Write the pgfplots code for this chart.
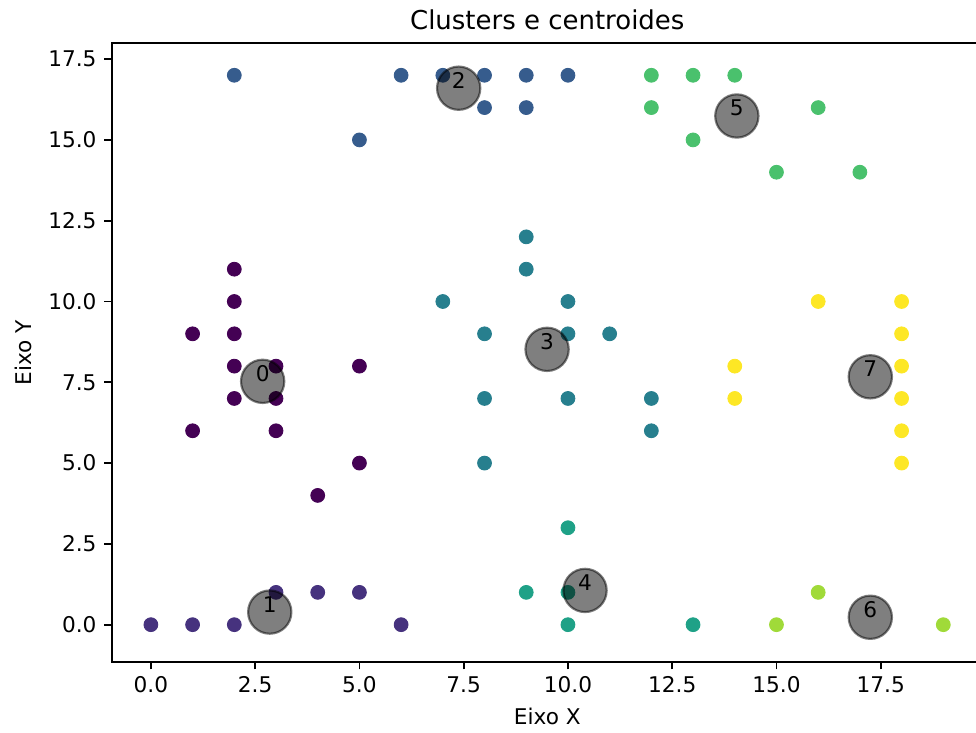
\documentclass[border=0pt]{standalone}
\usepackage{pgfplots}
\pgfplotsset{compat=1.18}
\usepackage{pgfplotstable}
\usepackage{fontspec}
\setmainfont{DejaVu Sans}
\definecolor{v0}{HTML}{440154}
\definecolor{v1}{HTML}{46327E}
\definecolor{v2}{HTML}{365C8D}
\definecolor{v3}{HTML}{277F8E}
\definecolor{v4}{HTML}{1FA187}
\definecolor{v5}{HTML}{4AC16D}
\definecolor{v6}{HTML}{A0DA39}
\definecolor{v7}{HTML}{FDE725}
\pgfplotstableread{
x y label
2.68 7.53 0
2.85 0.39 1
7.38 16.60 2
9.50 8.52 3
10.41 1.06 4
14.05 15.74 5
17.25 0.23 6
17.25 7.67 7
}\centroids
\begin{document}
\begin{tikzpicture}
\begin{axis}[
  at={(0,0)}, anchor=south west,
  scale only axis,
  width=402.5pt, height=285.7pt,
  xmin=-0.94, xmax=19.95, ymin=-1.145, ymax=17.99,
  xtick={0,2.5,...,17.5}, ytick={0,2.5,...,17.5},
  tick align=outside, xtick pos=bottom, ytick pos=left,
  major tick length=3.5pt,
  every tick/.style={black, line width=0.8pt},
  axis line style={line width=0.8pt},
  /pgf/number format/assume math mode=true,
  xticklabel style={/pgf/number format/.cd, fixed, fixed zerofill, precision=1},
  yticklabel style={/pgf/number format/.cd, fixed, fixed zerofill, precision=1},
  tick label style={font=\fontsize{10}{12}\selectfont},
  title={Clusters e centroides},
  every axis title shift=0pt,
  title style={at={(axis description cs:0.5,1.0215)}, anchor=base, yshift=0pt, inner sep=0pt, font=\fontsize{12}{14}\selectfont},
  xlabel={Eixo X},
  xlabel style={at={(axis description cs:0.5,-0.1022)}, anchor=base, inner sep=0pt, font=\fontsize{10}{12}\selectfont},
  ylabel={Eixo Y},
  ylabel style={at={(axis description cs:-0.0917,0.5)}, anchor=base, inner sep=0pt, font=\fontsize{10}{12}\selectfont},
  clip=false,
]
\addplot[only marks, mark=*, mark size=3.2pt, color=v0] coordinates {(2,11)(2,10)(1,9)(2,9)(2,8)(3,8)(2,7)(3,7)(1,6)(3,6)(5,8)(5,5)(4,4)};
\addplot[only marks, mark=*, mark size=3.2pt, color=v1] coordinates {(0,0)(1,0)(2,0)(3,1)(4,1)(5,1)(6,0)};
\addplot[only marks, mark=*, mark size=3.2pt, color=v2] coordinates {(2,17)(6,17)(7,17)(8,17)(9,17)(10,17)(5,15)(8,16)(9,16)};
\addplot[only marks, mark=*, mark size=3.2pt, color=v3] coordinates {(9,12)(9,11)(7,10)(10,10)(8,9)(10,9)(11,9)(8,7)(10,7)(12,7)(12,6)(8,5)};
\addplot[only marks, mark=*, mark size=3.2pt, color=v4] coordinates {(9,1)(10,1)(10,0)(13,0)(10,3)};
\addplot[only marks, mark=*, mark size=3.2pt, color=v5] coordinates {(12,17)(13,17)(14,17)(12,16)(16,16)(13,15)(15,14)(17,14)};
\addplot[only marks, mark=*, mark size=3.2pt, color=v6] coordinates {(15,0)(16,1)(19,0)};
\addplot[only marks, mark=*, mark size=3.2pt, color=v7] coordinates {(16,10)(14,8)(14,7)(18,10)(18,9)(18,8)(18,7)(18,6)(18,5)};
\addplot[only marks, mark=*, mark size=10pt,
  mark options={fill=black, draw=black, fill opacity=0.5, draw opacity=0.5, line width=1pt}]
  table[x=x, y=y] {\centroids};
\addplot[draw=none, mark=none,
  nodes near coords, point meta=explicit symbolic,
  nodes near coords style={inner sep=0pt, anchor=base, text=black, opacity=1, text opacity=1, font=\fontsize{10}{12}\selectfont}]
  table[x=x, y=y, meta=label] {\centroids};
\end{axis}
\pgfresetboundingbox
\path (-51.6pt,-32.9pt) rectangle (399.3pt,305.7pt);
\end{tikzpicture}
\end{document}
